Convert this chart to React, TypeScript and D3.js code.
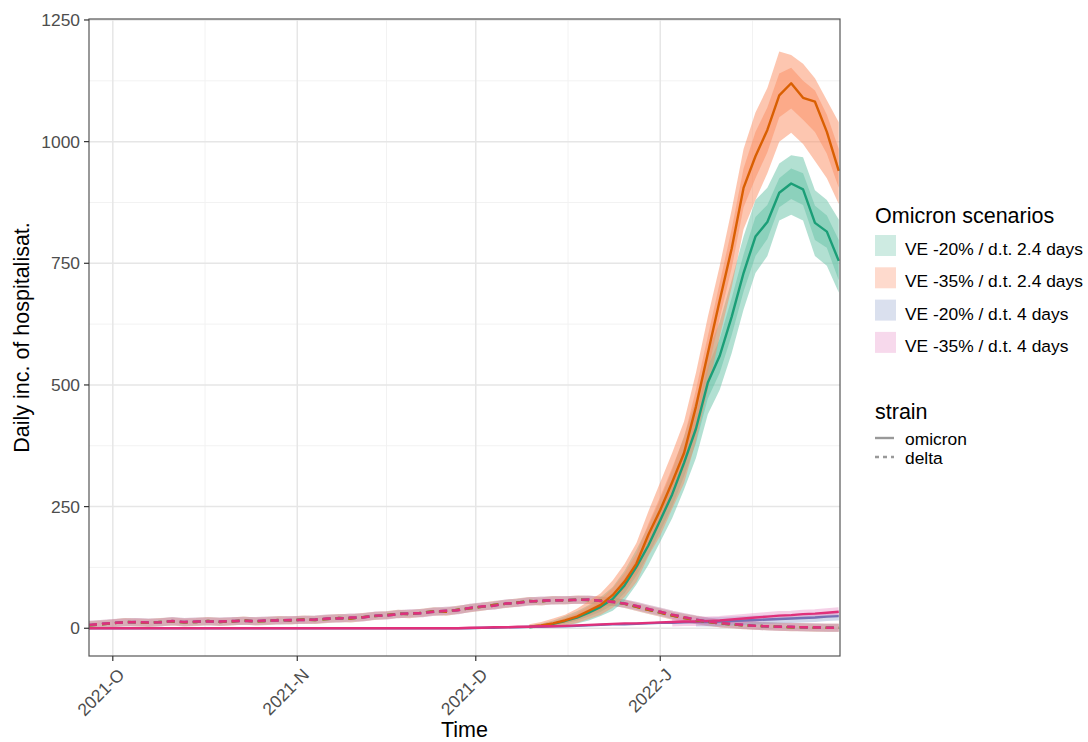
import React, { useEffect, useRef } from 'react';
import * as d3 from 'd3';

const W = 1088;
const H = 742;

// axis breaks
const monthBreaks = [new Date(2021, 9, 1), new Date(2021, 10, 1), new Date(2021, 11, 1), new Date(2022, 0, 1)];
const monthLabels = ['2021-O', '2021-N', '2021-D', '2022-J'];
const minorXBreaks = [new Date(2021, 9, 16, 12), new Date(2021, 10, 16), new Date(2021, 11, 16, 12), new Date(2022, 0, 16, 12)];
const yTicks = [0, 250, 500, 750, 1000, 1250];
const yMinorTicks = [125, 375, 625, 875, 1125];

const scenarios = ['VE -20% / d.t. 2.4 days', 'VE -35% / d.t. 2.4 days', 'VE -20% / d.t. 4 days', 'VE -35% / d.t. 4 days'];
const lineColors = ['#1B9E77', '#D95F02', '#7570B3', '#E0307A'];
const fillColors = ['#66C2A5', '#FC8D62', '#8DA0CB', '#E78AC3'];

// long series: every 2 days from 2021-09-27 to 2022-01-31
const longStart = new Date(2021, 8, 27);
const deltaFast = [6, 8, 10, 13, 12, 11, 13, 14, 12, 13, 15, 13, 14, 16, 14, 15, 17, 16, 18, 17, 19, 21, 20, 23, 25, 27, 30, 29, 32, 35, 34, 38, 41, 44, 48, 50, 53, 56, 55, 58, 57, 59, 58, 57, 55, 50, 44, 38, 32, 26, 21, 17, 13, 10, 8, 6, 5, 4, 3, 2, 2, 1, 1, 1];
const deltaSlow = [7, 9, 11, 12, 13, 12, 12, 15, 13, 14, 14, 14, 15, 15, 15, 16, 16, 17, 17, 18, 20, 20, 22, 22, 26, 26, 29, 31, 31, 34, 36, 37, 42, 45, 46, 51, 52, 55, 57, 57, 58, 58, 59, 56, 54, 51, 46, 40, 34, 28, 23, 18, 14, 11, 9, 7, 5, 4, 3, 3, 2, 2, 1, 1];
const omicronSlowA = [0, 0, 0, 0, 0, 0, 0, 0, 0, 0, 0, 0, 0, 0, 0, 0, 0, 0, 0, 0, 0, 0, 0, 0, 0, 0, 0, 0, 0, 0, 0, 0, 0, 1, 1, 2, 2, 3, 3, 4, 4, 5, 6, 7, 8, 8, 9, 10, 11, 11, 12, 13, 13, 14, 15, 16, 17, 18, 19, 20, 21, 22, 24, 25];
const omicronSlowB = [0, 0, 0, 0, 0, 0, 0, 0, 0, 0, 0, 0, 0, 0, 0, 0, 0, 0, 0, 0, 0, 0, 0, 0, 0, 0, 0, 0, 0, 0, 0, 0, 1, 1, 2, 2, 3, 3, 4, 4, 5, 6, 7, 8, 9, 10, 10, 11, 12, 13, 14, 14, 15, 16, 18, 20, 22, 24, 26, 27, 29, 30, 32, 34];

// fast omicron scenarios: every 2 days from 2021-12-10 to 2022-01-31
const fastStart = new Date(2021, 11, 10);
const omicronFastA = [2, 5, 9, 15, 22, 32, 44, 60, 88, 126, 170, 222, 275, 340, 410, 505, 560, 640, 730, 805, 835, 895, 914, 902, 833, 815, 755];
const hi95A = [6, 10, 16, 25, 35, 48, 64, 85, 118, 162, 210, 265, 325, 395, 470, 570, 630, 715, 805, 880, 905, 955, 972, 968, 900, 880, 840];
const hi50A = [4, 7, 12, 20, 28, 40, 54, 72, 103, 144, 190, 245, 300, 368, 440, 538, 595, 678, 768, 845, 870, 925, 945, 935, 868, 848, 798];
const lo50A = [1, 3, 6, 10, 16, 24, 34, 48, 72, 108, 150, 200, 250, 312, 380, 472, 525, 602, 692, 765, 800, 865, 882, 870, 798, 782, 715];
const lo95A = [0, 1, 3, 6, 10, 16, 25, 36, 56, 90, 130, 178, 226, 285, 350, 440, 490, 565, 655, 730, 765, 838, 850, 838, 765, 745, 690];
const omicronFastB = [3, 6, 10, 16, 24, 36, 48, 68, 96, 133, 192, 243, 300, 360, 455, 565, 674, 780, 905, 970, 1024, 1095, 1120, 1090, 1082, 1020, 940];
const hi95B = [8, 13, 20, 28, 40, 56, 72, 98, 132, 175, 240, 300, 360, 425, 525, 640, 745, 860, 985, 1060, 1110, 1185, 1178, 1160, 1130, 1085, 1040];
const hi50B = [5, 9, 14, 21, 31, 45, 59, 82, 113, 153, 215, 270, 330, 392, 490, 600, 710, 820, 945, 1020, 1070, 1140, 1152, 1125, 1105, 1055, 985];
const lo50B = [1, 3, 6, 11, 18, 28, 38, 55, 80, 114, 170, 218, 272, 330, 420, 528, 638, 740, 865, 925, 978, 1050, 1068, 1045, 1020, 975, 905];
const lo95B = [0, 1, 3, 6, 11, 19, 28, 42, 64, 95, 148, 190, 245, 298, 385, 490, 600, 700, 820, 880, 935, 1000, 1018, 995, 960, 925, 872];

const FONT = '"Liberation Sans", Arial, Helvetica, sans-serif';

type Pt = { date: Date; v: number };
type Band = { date: Date; lo: number; hi: number };

const toPoints = (start: Date, vals: number[]): Pt[] =>
  vals.map((v, i) => ({ date: d3.timeDay.offset(start, i * 2), v }));
const toBand = (start: Date, lo: number[], hi: number[]): Band[] =>
  lo.map((l, i) => ({ date: d3.timeDay.offset(start, i * 2), lo: l, hi: hi[i] }));

const App: React.FC = () => {
  const svgRef = useRef<SVGSVGElement>(null);

  useEffect(() => {
    if (!svgRef.current) return;
    const svg = d3.select(svgRef.current);
    svg.selectAll('*').remove();

    const panel = { left: 89, right: 840, top: 19, bottom: 656 };

    const x = d3.scaleTime()
      .domain([new Date(2021, 8, 27), new Date(2022, 0, 31, 5)])
      .range([panel.left, panel.right]);
    const y = d3.scaleLinear()
      .domain([-57, 1252])
      .range([panel.bottom, panel.top]);

    svg.append('rect').attr('width', W).attr('height', H).attr('fill', '#fff');

    svg.append('clipPath').attr('id', 'panel-clip')
      .append('rect')
      .attr('x', panel.left).attr('y', panel.top)
      .attr('width', panel.right - panel.left).attr('height', panel.bottom - panel.top);

    // grid
    const grid = svg.append('g');
    grid.selectAll('.gx-minor').data(minorXBreaks).enter().append('line')
      .attr('x1', d => x(d)).attr('x2', d => x(d))
      .attr('y1', panel.top).attr('y2', panel.bottom)
      .attr('stroke', '#F2F2F2').attr('stroke-width', 1);
    grid.selectAll('.gy-minor').data(yMinorTicks).enter().append('line')
      .attr('x1', panel.left).attr('x2', panel.right)
      .attr('y1', d => y(d)).attr('y2', d => y(d))
      .attr('stroke', '#F2F2F2').attr('stroke-width', 1);
    grid.selectAll('.gx').data(monthBreaks).enter().append('line')
      .attr('x1', d => x(d)).attr('x2', d => x(d))
      .attr('y1', panel.top).attr('y2', panel.bottom)
      .attr('stroke', '#E6E6E6').attr('stroke-width', 1.5);
    grid.selectAll('.gy').data(yTicks).enter().append('line')
      .attr('x1', panel.left).attr('x2', panel.right)
      .attr('y1', d => y(d)).attr('y2', d => y(d))
      .attr('stroke', '#E6E6E6').attr('stroke-width', 1.5);

    const plot = svg.append('g').attr('clip-path', 'url(#panel-clip)');

    const line = d3.line<Pt>().x(d => x(d.date)).y(d => y(d.v));
    const area = d3.area<Band>().x(d => x(d.date)).y0(d => y(d.lo)).y1(d => y(d.hi));

    const deltaSeries = [deltaFast, deltaFast, deltaSlow, deltaSlow].map(s => toPoints(longStart, s));
    const slowOmicron = [omicronSlowA, omicronSlowB].map(s => toPoints(longStart, s));
    const fastOmicron = [omicronFastA, omicronFastB].map(s => toPoints(fastStart, s));
    const fastBands = [
      [toBand(fastStart, lo95A, hi95A), toBand(fastStart, lo50A, hi50A)],
      [toBand(fastStart, lo95B, hi95B), toBand(fastStart, lo50B, hi50B)],
    ];
    const omicronSeries = [fastOmicron[0], fastOmicron[1], slowOmicron[0], slowOmicron[1]];

    // delta ribbons, grey-ish where the four overlap
    scenarios.forEach((_, i) => {
      plot.append('path')
        .attr('d', line(deltaSeries[i]) as string)
        .attr('fill', 'none')
        .attr('stroke', i % 2 === 0 ? '#9a9a9a' : fillColors[i])
        .attr('stroke-opacity', 0.3)
        .attr('stroke-width', 8)
        .attr('stroke-linejoin', 'round');
    });

    // omicron ribbons
    scenarios.forEach((_, i) => {
      if (i < 2) {
        fastBands[i].forEach(b => {
          plot.append('path')
            .attr('d', area(b) as string)
            .attr('fill', fillColors[i])
            .attr('fill-opacity', 0.5);
        });
      } else {
        plot.append('path')
          .attr('d', line(omicronSeries[i].filter(d => d.v >= 13)) as string)
          .attr('fill', 'none')
          .attr('stroke', fillColors[i])
          .attr('stroke-opacity', 0.4)
          .attr('stroke-width', 9)
          .attr('stroke-linejoin', 'round');
      }
    });

    // lines: omicron solid, delta dashed
    scenarios.forEach((_, i) => {
      plot.append('path')
        .attr('d', line(omicronSeries[i]) as string)
        .attr('fill', 'none')
        .attr('stroke', lineColors[i])
        .attr('stroke-width', 2.4)
        .attr('stroke-linejoin', 'round');
    });
    scenarios.forEach((_, i) => {
      plot.append('path')
        .attr('d', line(deltaSeries[i]) as string)
        .attr('fill', 'none')
        .attr('stroke', lineColors[i])
        .attr('stroke-width', 2.4)
        .attr('stroke-dasharray', '8,5');
    });

    // panel border
    svg.append('rect')
      .attr('x', panel.left).attr('y', panel.top)
      .attr('width', panel.right - panel.left).attr('height', panel.bottom - panel.top)
      .attr('fill', 'none').attr('stroke', '#555').attr('stroke-width', 1.2);

    // y axis
    const yAxis = svg.append('g');
    yAxis.selectAll('line').data(yTicks).enter().append('line')
      .attr('x1', panel.left - 5).attr('x2', panel.left)
      .attr('y1', d => y(d)).attr('y2', d => y(d))
      .attr('stroke', '#333').attr('stroke-width', 1.2);
    yAxis.selectAll('text').data(yTicks).enter().append('text')
      .attr('x', panel.left - 9).attr('y', d => y(d))
      .attr('dy', '0.35em')
      .attr('text-anchor', 'end')
      .style('font-family', FONT).style('font-size', '17.4px').style('fill', '#4D4D4D')
      .text(d => String(d));

    // x axis
    const xAxis = svg.append('g');
    xAxis.selectAll('line').data(monthBreaks).enter().append('line')
      .attr('x1', d => x(d)).attr('x2', d => x(d))
      .attr('y1', panel.bottom).attr('y2', panel.bottom + 5)
      .attr('stroke', '#333').attr('stroke-width', 1.2);
    xAxis.selectAll('text').data(monthBreaks).enter().append('text')
      .attr('transform', d => `translate(${x(d) + 4},${panel.bottom + 11}) rotate(-45)`)
      .attr('dy', '0.72em')
      .attr('text-anchor', 'end')
      .style('font-family', FONT).style('font-size', '17.4px').style('fill', '#4D4D4D')
      .text((_, i) => monthLabels[i]);

    // axis titles
    svg.append('text')
      .attr('x', (panel.left + panel.right) / 2).attr('y', 737)
      .attr('text-anchor', 'middle')
      .style('font-family', FONT).style('font-size', '21.5px').style('fill', '#000')
      .text('Time');
    svg.append('text')
      .attr('transform', `translate(29,${(panel.top + panel.bottom) / 2}) rotate(-90)`)
      .attr('text-anchor', 'middle')
      .style('font-family', FONT).style('font-size', '21.5px').style('fill', '#000')
      .text('Daily inc. of hospitalisat.');

    // legend: scenarios
    const leg = svg.append('g');
    leg.append('text')
      .attr('x', 875).attr('y', 223)
      .style('font-family', FONT).style('font-size', '21.5px').style('fill', '#000')
      .text('Omicron scenarios');
    scenarios.forEach((s, i) => {
      const top = 235 + i * 32.3;
      leg.append('rect')
        .attr('x', 875).attr('y', top).attr('width', 21).attr('height', 21)
        .attr('fill', fillColors[i]).attr('fill-opacity', 0.32);
      leg.append('text')
        .attr('x', 905).attr('y', top + 20)
        .style('font-family', FONT).style('font-size', '17.4px').style('fill', '#000')
        .text(s);
    });

    // legend: strain
    leg.append('text')
      .attr('x', 875).attr('y', 419)
      .style('font-family', FONT).style('font-size', '21.5px').style('fill', '#000')
      .text('strain');
    const strains = [
      { label: 'omicron', dash: null as string | null, cy: 438 },
      { label: 'delta', dash: '4,4', cy: 457 },
    ];
    strains.forEach(s => {
      const l = leg.append('line')
        .attr('x1', 875).attr('x2', 894)
        .attr('y1', s.cy).attr('y2', s.cy)
        .attr('stroke', '#999').attr('stroke-width', 2.4);
      if (s.dash) l.attr('stroke-dasharray', s.dash);
      leg.append('text')
        .attr('x', 905).attr('y', s.cy + 7)
        .style('font-family', FONT).style('font-size', '17.4px').style('fill', '#000')
        .text(s.label);
    });
  }, []);

  return (
    <svg
      ref={svgRef}
      width={W}
      height={H}
      style={{ position: 'absolute', left: 0, top: 0, display: 'block' }}
    />
  );
};

export default App;
